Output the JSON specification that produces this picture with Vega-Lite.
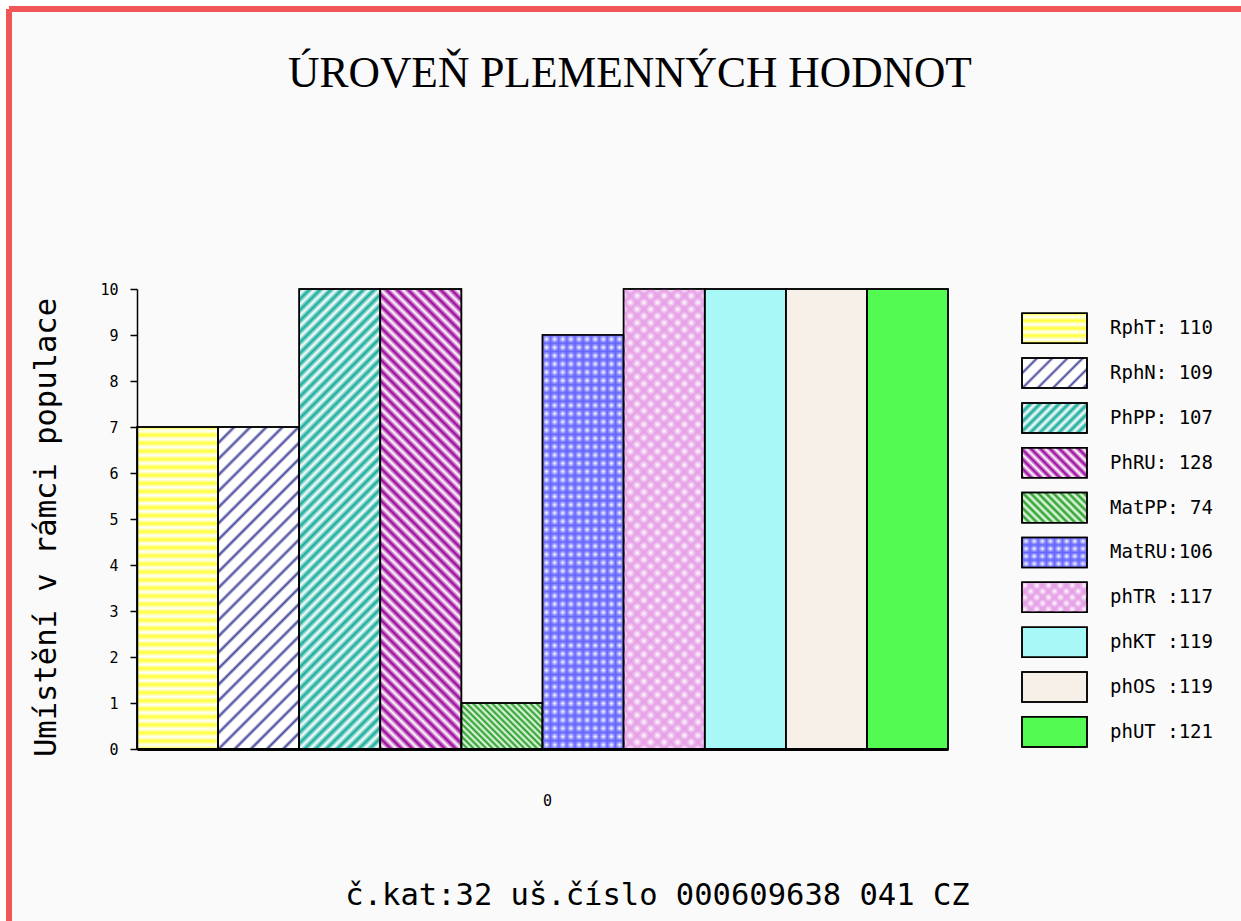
{
"$schema": "https://vega.github.io/schema/vega-lite/v6.json",
"width": 1232, "height": 912,
"autosize": {"type": "none"},
"padding": {"left": 9, "top": 9, "right": 0, "bottom": 0},
"background": "#ffffff",
"config": {"view": {"fill": "#fafafa", "stroke": "#f25757", "strokeWidth": 6, "strokeDash": [1232, 2144, 912, 0]}},
"title": {"text": "ÚROVEŇ PLEMENNÝCH HODNOT", "font": "Liberation Serif", "fontSize": 43.5, "fontWeight": "normal", "color": "#000", "anchor": "middle", "frame": "group", "baseline": "alphabetic", "offset": 0, "dx": 5, "dy": 121},
"data": {"values": [
 {"grp": "0", "name": "RphT", "value": 7, "label": "RphT: 110"},
 {"grp": "0", "name": "RphN", "value": 7, "label": "RphN: 109"},
 {"grp": "0", "name": "PhPP", "value": 10, "label": "PhPP: 107"},
 {"grp": "0", "name": "PhRU", "value": 10, "label": "PhRU: 128"},
 {"grp": "0", "name": "MatPP", "value": 1, "label": "MatPP: 74"},
 {"grp": "0", "name": "MatRU", "value": 9, "label": "MatRU:106"},
 {"grp": "0", "name": "phTR", "value": 10, "label": "phTR :117"},
 {"grp": "0", "name": "phKT", "value": 10, "label": "phKT :119"},
 {"grp": "0", "name": "phOS", "value": 10, "label": "phOS :119"},
 {"grp": "0", "name": "phUT", "value": 10, "label": "phUT :121"}
]},
"resolve": {"scale": {"x": "independent", "y": "independent"}, "axis": {"x": "independent", "y": "independent"}},
"layer": [
 {
  "encoding": {
   "x": {"field": "grp", "type": "nominal", "scale": {"type": "band", "range": [128, 939], "paddingInner": 0, "paddingOuter": 0},
     "axis": {"orient": "bottom", "offset": -172, "ticks": false, "labelAngle": 0, "labelFont": "DejaVu Sans Mono", "labelFontSize": 15, "labelColor": "#000", "labelPadding": 44, "labelOffset": 5, "domainColor": "#000", "domainWidth": 3, "zindex": 1,
       "title": "č.kat:32 uš.číslo 000609638 041 CZ", "titleFont": "DejaVu Sans Mono", "titleFontSize": 30.5, "titleFontWeight": "normal", "titleColor": "#000", "titlePadding": 72, "titleX": 648, "titleAlign": "center"}},
   "xOffset": {"field": "name", "type": "nominal", "sort": ["RphT","RphN","PhPP","PhRU","MatPP","MatRU","phTR","phKT","phOS","phUT"], "scale": {"paddingInner": 0, "paddingOuter": 0}},
   "y": {"field": "value", "type": "quantitative", "scale": {"domain": [0, 10], "range": [740, 280], "nice": false},
     "axis": {"orient": "left", "offset": -128, "values": [0,1,2,3,4,5,6,7,8,9,10], "grid": false, "tickSize": 7, "tickColor": "#000", "tickWidth": 1.5, "domainColor": "#000", "domainWidth": 1.5, "zindex": 1, "labelFont": "DejaVu Sans Mono", "labelFontSize": 15, "labelColor": "#000", "labelPadding": 12,
       "title": "Umístění v rámci populace", "titleFont": "DejaVu Sans Mono", "titleFontSize": 30.5, "titleFontWeight": "normal", "titleColor": "#000", "titlePadding": 38, "titleY": 518}}
  },
  "layer": [
   {"mark": {"type": "bar", "stroke": "#000", "strokeWidth": 1.5},
    "encoding": {"fill": {"condition": [
     {"test": "datum.name==='RphT'", "value": {"gradient": "linear", "x1": 0, "y1": 0, "x2": 0, "y2": 1, "stops": [
      {"offset":0,"color":"#ff3"},{"offset":0.0125,"color":"#fff"},{"offset":0.025,"color":"#ff3"},{"offset":0.0375,"color":"#fff"},{"offset":0.05,"color":"#ff3"},{"offset":0.0625,"color":"#fff"},{"offset":0.075,"color":"#ff3"},{"offset":0.0875,"color":"#fff"},{"offset":0.1,"color":"#ff3"},{"offset":0.1125,"color":"#fff"},
      {"offset":0.125,"color":"#ff3"},{"offset":0.1375,"color":"#fff"},{"offset":0.15,"color":"#ff3"},{"offset":0.1625,"color":"#fff"},{"offset":0.175,"color":"#ff3"},{"offset":0.1875,"color":"#fff"},{"offset":0.2,"color":"#ff3"},{"offset":0.2125,"color":"#fff"},{"offset":0.225,"color":"#ff3"},{"offset":0.2375,"color":"#fff"},
      {"offset":0.25,"color":"#ff3"},{"offset":0.2625,"color":"#fff"},{"offset":0.275,"color":"#ff3"},{"offset":0.2875,"color":"#fff"},{"offset":0.3,"color":"#ff3"},{"offset":0.3125,"color":"#fff"},{"offset":0.325,"color":"#ff3"},{"offset":0.3375,"color":"#fff"},{"offset":0.35,"color":"#ff3"},{"offset":0.3625,"color":"#fff"},
      {"offset":0.375,"color":"#ff3"},{"offset":0.3875,"color":"#fff"},{"offset":0.4,"color":"#ff3"},{"offset":0.4125,"color":"#fff"},{"offset":0.425,"color":"#ff3"},{"offset":0.4375,"color":"#fff"},{"offset":0.45,"color":"#ff3"},{"offset":0.4625,"color":"#fff"},{"offset":0.475,"color":"#ff3"},{"offset":0.4875,"color":"#fff"},
      {"offset":0.5,"color":"#ff3"},{"offset":0.5125,"color":"#fff"},{"offset":0.525,"color":"#ff3"},{"offset":0.5375,"color":"#fff"},{"offset":0.55,"color":"#ff3"},{"offset":0.5625,"color":"#fff"},{"offset":0.575,"color":"#ff3"},{"offset":0.5875,"color":"#fff"},{"offset":0.6,"color":"#ff3"},{"offset":0.6125,"color":"#fff"},
      {"offset":0.625,"color":"#ff3"},{"offset":0.6375,"color":"#fff"},{"offset":0.65,"color":"#ff3"},{"offset":0.6625,"color":"#fff"},{"offset":0.675,"color":"#ff3"},{"offset":0.6875,"color":"#fff"},{"offset":0.7,"color":"#ff3"},{"offset":0.7125,"color":"#fff"},{"offset":0.725,"color":"#ff3"},{"offset":0.7375,"color":"#fff"},
      {"offset":0.75,"color":"#ff3"},{"offset":0.7625,"color":"#fff"},{"offset":0.775,"color":"#ff3"},{"offset":0.7875,"color":"#fff"},{"offset":0.8,"color":"#ff3"},{"offset":0.8125,"color":"#fff"},{"offset":0.825,"color":"#ff3"},{"offset":0.8375,"color":"#fff"},{"offset":0.85,"color":"#ff3"},{"offset":0.8625,"color":"#fff"},
      {"offset":0.875,"color":"#ff3"},{"offset":0.8875,"color":"#fff"},{"offset":0.9,"color":"#ff3"},{"offset":0.9125,"color":"#fff"},{"offset":0.925,"color":"#ff3"},{"offset":0.9375,"color":"#fff"},{"offset":0.95,"color":"#ff3"},{"offset":0.9625,"color":"#fff"},{"offset":0.975,"color":"#ff3"},{"offset":0.9875,"color":"#fff"},{"offset":1,"color":"#ff3"}]}},
     {"test": "datum.name==='RphN'", "value": {"gradient": "linear", "x1": 0, "y1": 0, "x2": 0.2965, "y2": 1.1772, "stops": [
      {"offset":0,"color":"#449"},{"offset":0.008,"color":"#fff"},{"offset":0.032,"color":"#fff"},{"offset":0.04,"color":"#449"},{"offset":0.048,"color":"#fff"},{"offset":0.072,"color":"#fff"},{"offset":0.08,"color":"#449"},{"offset":0.088,"color":"#fff"},{"offset":0.112,"color":"#fff"},
      {"offset":0.12,"color":"#449"},{"offset":0.128,"color":"#fff"},{"offset":0.152,"color":"#fff"},{"offset":0.16,"color":"#449"},{"offset":0.168,"color":"#fff"},{"offset":0.192,"color":"#fff"},{"offset":0.2,"color":"#449"},{"offset":0.208,"color":"#fff"},{"offset":0.232,"color":"#fff"},
      {"offset":0.24,"color":"#449"},{"offset":0.248,"color":"#fff"},{"offset":0.272,"color":"#fff"},{"offset":0.28,"color":"#449"},{"offset":0.288,"color":"#fff"},{"offset":0.312,"color":"#fff"},{"offset":0.32,"color":"#449"},{"offset":0.328,"color":"#fff"},{"offset":0.352,"color":"#fff"},
      {"offset":0.36,"color":"#449"},{"offset":0.368,"color":"#fff"},{"offset":0.392,"color":"#fff"},{"offset":0.4,"color":"#449"},{"offset":0.408,"color":"#fff"},{"offset":0.432,"color":"#fff"},{"offset":0.44,"color":"#449"},{"offset":0.448,"color":"#fff"},{"offset":0.472,"color":"#fff"},
      {"offset":0.48,"color":"#449"},{"offset":0.488,"color":"#fff"},{"offset":0.512,"color":"#fff"},{"offset":0.52,"color":"#449"},{"offset":0.528,"color":"#fff"},{"offset":0.552,"color":"#fff"},{"offset":0.56,"color":"#449"},{"offset":0.568,"color":"#fff"},{"offset":0.592,"color":"#fff"},
      {"offset":0.6,"color":"#449"},{"offset":0.608,"color":"#fff"},{"offset":0.632,"color":"#fff"},{"offset":0.64,"color":"#449"},{"offset":0.648,"color":"#fff"},{"offset":0.672,"color":"#fff"},{"offset":0.68,"color":"#449"},{"offset":0.688,"color":"#fff"},{"offset":0.712,"color":"#fff"},
      {"offset":0.72,"color":"#449"},{"offset":0.728,"color":"#fff"},{"offset":0.752,"color":"#fff"},{"offset":0.76,"color":"#449"},{"offset":0.768,"color":"#fff"},{"offset":0.792,"color":"#fff"},{"offset":0.8,"color":"#449"},{"offset":0.808,"color":"#fff"},{"offset":0.832,"color":"#fff"},
      {"offset":0.84,"color":"#449"},{"offset":0.848,"color":"#fff"},{"offset":0.872,"color":"#fff"},{"offset":0.88,"color":"#449"},{"offset":0.888,"color":"#fff"},{"offset":0.912,"color":"#fff"},{"offset":0.92,"color":"#449"},{"offset":0.928,"color":"#fff"},{"offset":0.952,"color":"#fff"},
      {"offset":0.96,"color":"#449"},{"offset":0.968,"color":"#fff"},{"offset":0.992,"color":"#fff"},{"offset":1,"color":"#449"}]}},
     {"test": "datum.name==='PhPP'", "value": {"gradient": "linear", "x1": 0, "y1": 0, "x2": 0.2011, "y2": 1.1409, "stops": [
      {"offset":0,"color":"#1a9"},{"offset":0.01,"color":"#fff"},{"offset":0.02,"color":"#1a9"},{"offset":0.03,"color":"#fff"},{"offset":0.04,"color":"#1a9"},{"offset":0.05,"color":"#fff"},{"offset":0.06,"color":"#1a9"},{"offset":0.07,"color":"#fff"},{"offset":0.08,"color":"#1a9"},{"offset":0.09,"color":"#fff"},
      {"offset":0.1,"color":"#1a9"},{"offset":0.11,"color":"#fff"},{"offset":0.12,"color":"#1a9"},{"offset":0.13,"color":"#fff"},{"offset":0.14,"color":"#1a9"},{"offset":0.15,"color":"#fff"},{"offset":0.16,"color":"#1a9"},{"offset":0.17,"color":"#fff"},{"offset":0.18,"color":"#1a9"},{"offset":0.19,"color":"#fff"},
      {"offset":0.2,"color":"#1a9"},{"offset":0.21,"color":"#fff"},{"offset":0.22,"color":"#1a9"},{"offset":0.23,"color":"#fff"},{"offset":0.24,"color":"#1a9"},{"offset":0.25,"color":"#fff"},{"offset":0.26,"color":"#1a9"},{"offset":0.27,"color":"#fff"},{"offset":0.28,"color":"#1a9"},{"offset":0.29,"color":"#fff"},
      {"offset":0.3,"color":"#1a9"},{"offset":0.31,"color":"#fff"},{"offset":0.32,"color":"#1a9"},{"offset":0.33,"color":"#fff"},{"offset":0.34,"color":"#1a9"},{"offset":0.35,"color":"#fff"},{"offset":0.36,"color":"#1a9"},{"offset":0.37,"color":"#fff"},{"offset":0.38,"color":"#1a9"},{"offset":0.39,"color":"#fff"},
      {"offset":0.4,"color":"#1a9"},{"offset":0.41,"color":"#fff"},{"offset":0.42,"color":"#1a9"},{"offset":0.43,"color":"#fff"},{"offset":0.44,"color":"#1a9"},{"offset":0.45,"color":"#fff"},{"offset":0.46,"color":"#1a9"},{"offset":0.47,"color":"#fff"},{"offset":0.48,"color":"#1a9"},{"offset":0.49,"color":"#fff"},
      {"offset":0.5,"color":"#1a9"},{"offset":0.51,"color":"#fff"},{"offset":0.52,"color":"#1a9"},{"offset":0.53,"color":"#fff"},{"offset":0.54,"color":"#1a9"},{"offset":0.55,"color":"#fff"},{"offset":0.56,"color":"#1a9"},{"offset":0.57,"color":"#fff"},{"offset":0.58,"color":"#1a9"},{"offset":0.59,"color":"#fff"},
      {"offset":0.6,"color":"#1a9"},{"offset":0.61,"color":"#fff"},{"offset":0.62,"color":"#1a9"},{"offset":0.63,"color":"#fff"},{"offset":0.64,"color":"#1a9"},{"offset":0.65,"color":"#fff"},{"offset":0.66,"color":"#1a9"},{"offset":0.67,"color":"#fff"},{"offset":0.68,"color":"#1a9"},{"offset":0.69,"color":"#fff"},
      {"offset":0.7,"color":"#1a9"},{"offset":0.71,"color":"#fff"},{"offset":0.72,"color":"#1a9"},{"offset":0.73,"color":"#fff"},{"offset":0.74,"color":"#1a9"},{"offset":0.75,"color":"#fff"},{"offset":0.76,"color":"#1a9"},{"offset":0.77,"color":"#fff"},{"offset":0.78,"color":"#1a9"},{"offset":0.79,"color":"#fff"},
      {"offset":0.8,"color":"#1a9"},{"offset":0.81,"color":"#fff"},{"offset":0.82,"color":"#1a9"},{"offset":0.83,"color":"#fff"},{"offset":0.84,"color":"#1a9"},{"offset":0.85,"color":"#fff"},{"offset":0.86,"color":"#1a9"},{"offset":0.87,"color":"#fff"},{"offset":0.88,"color":"#1a9"},{"offset":0.89,"color":"#fff"},
      {"offset":0.9,"color":"#1a9"},{"offset":0.91,"color":"#fff"},{"offset":0.92,"color":"#1a9"},{"offset":0.93,"color":"#fff"},{"offset":0.94,"color":"#1a9"},{"offset":0.95,"color":"#fff"},{"offset":0.96,"color":"#1a9"},{"offset":0.97,"color":"#fff"},{"offset":0.98,"color":"#1a9"},{"offset":0.99,"color":"#fff"},{"offset":1,"color":"#1a9"}]}},
     {"test": "datum.name==='PhRU'", "value": {"gradient": "linear", "x1": 0, "y1": 1, "x2": 0.2011, "y2": -0.1409, "stops": [
      {"offset":0,"color":"#909"},{"offset":0.01,"color":"#fff"},{"offset":0.02,"color":"#909"},{"offset":0.03,"color":"#fff"},{"offset":0.04,"color":"#909"},{"offset":0.05,"color":"#fff"},{"offset":0.06,"color":"#909"},{"offset":0.07,"color":"#fff"},{"offset":0.08,"color":"#909"},{"offset":0.09,"color":"#fff"},
      {"offset":0.1,"color":"#909"},{"offset":0.11,"color":"#fff"},{"offset":0.12,"color":"#909"},{"offset":0.13,"color":"#fff"},{"offset":0.14,"color":"#909"},{"offset":0.15,"color":"#fff"},{"offset":0.16,"color":"#909"},{"offset":0.17,"color":"#fff"},{"offset":0.18,"color":"#909"},{"offset":0.19,"color":"#fff"},
      {"offset":0.2,"color":"#909"},{"offset":0.21,"color":"#fff"},{"offset":0.22,"color":"#909"},{"offset":0.23,"color":"#fff"},{"offset":0.24,"color":"#909"},{"offset":0.25,"color":"#fff"},{"offset":0.26,"color":"#909"},{"offset":0.27,"color":"#fff"},{"offset":0.28,"color":"#909"},{"offset":0.29,"color":"#fff"},
      {"offset":0.3,"color":"#909"},{"offset":0.31,"color":"#fff"},{"offset":0.32,"color":"#909"},{"offset":0.33,"color":"#fff"},{"offset":0.34,"color":"#909"},{"offset":0.35,"color":"#fff"},{"offset":0.36,"color":"#909"},{"offset":0.37,"color":"#fff"},{"offset":0.38,"color":"#909"},{"offset":0.39,"color":"#fff"},
      {"offset":0.4,"color":"#909"},{"offset":0.41,"color":"#fff"},{"offset":0.42,"color":"#909"},{"offset":0.43,"color":"#fff"},{"offset":0.44,"color":"#909"},{"offset":0.45,"color":"#fff"},{"offset":0.46,"color":"#909"},{"offset":0.47,"color":"#fff"},{"offset":0.48,"color":"#909"},{"offset":0.49,"color":"#fff"},
      {"offset":0.5,"color":"#909"},{"offset":0.51,"color":"#fff"},{"offset":0.52,"color":"#909"},{"offset":0.53,"color":"#fff"},{"offset":0.54,"color":"#909"},{"offset":0.55,"color":"#fff"},{"offset":0.56,"color":"#909"},{"offset":0.57,"color":"#fff"},{"offset":0.58,"color":"#909"},{"offset":0.59,"color":"#fff"},
      {"offset":0.6,"color":"#909"},{"offset":0.61,"color":"#fff"},{"offset":0.62,"color":"#909"},{"offset":0.63,"color":"#fff"},{"offset":0.64,"color":"#909"},{"offset":0.65,"color":"#fff"},{"offset":0.66,"color":"#909"},{"offset":0.67,"color":"#fff"},{"offset":0.68,"color":"#909"},{"offset":0.69,"color":"#fff"},
      {"offset":0.7,"color":"#909"},{"offset":0.71,"color":"#fff"},{"offset":0.72,"color":"#909"},{"offset":0.73,"color":"#fff"},{"offset":0.74,"color":"#909"},{"offset":0.75,"color":"#fff"},{"offset":0.76,"color":"#909"},{"offset":0.77,"color":"#fff"},{"offset":0.78,"color":"#909"},{"offset":0.79,"color":"#fff"},
      {"offset":0.8,"color":"#909"},{"offset":0.81,"color":"#fff"},{"offset":0.82,"color":"#909"},{"offset":0.83,"color":"#fff"},{"offset":0.84,"color":"#909"},{"offset":0.85,"color":"#fff"},{"offset":0.86,"color":"#909"},{"offset":0.87,"color":"#fff"},{"offset":0.88,"color":"#909"},{"offset":0.89,"color":"#fff"},
      {"offset":0.9,"color":"#909"},{"offset":0.91,"color":"#fff"},{"offset":0.92,"color":"#909"},{"offset":0.93,"color":"#fff"},{"offset":0.94,"color":"#909"},{"offset":0.95,"color":"#fff"},{"offset":0.96,"color":"#909"},{"offset":0.97,"color":"#fff"},{"offset":0.98,"color":"#909"},{"offset":0.99,"color":"#fff"},{"offset":1,"color":"#909"}]}},
     {"test": "datum.name==='MatPP'", "value": {"gradient": "linear", "x1": 0, "y1": 1, "x2": 1.1858, "y2": 0.3274, "stops": [
      {"offset":0,"color":"#292"},{"offset":0.025,"color":"#efe"},{"offset":0.05,"color":"#292"},{"offset":0.075,"color":"#efe"},{"offset":0.1,"color":"#292"},{"offset":0.125,"color":"#efe"},{"offset":0.15,"color":"#292"},{"offset":0.175,"color":"#efe"},{"offset":0.2,"color":"#292"},{"offset":0.225,"color":"#efe"},
      {"offset":0.25,"color":"#292"},{"offset":0.275,"color":"#efe"},{"offset":0.3,"color":"#292"},{"offset":0.325,"color":"#efe"},{"offset":0.35,"color":"#292"},{"offset":0.375,"color":"#efe"},{"offset":0.4,"color":"#292"},{"offset":0.425,"color":"#efe"},{"offset":0.45,"color":"#292"},{"offset":0.475,"color":"#efe"},
      {"offset":0.5,"color":"#292"},{"offset":0.525,"color":"#efe"},{"offset":0.55,"color":"#292"},{"offset":0.575,"color":"#efe"},{"offset":0.6,"color":"#292"},{"offset":0.625,"color":"#efe"},{"offset":0.65,"color":"#292"},{"offset":0.675,"color":"#efe"},{"offset":0.7,"color":"#292"},{"offset":0.725,"color":"#efe"},
      {"offset":0.75,"color":"#292"},{"offset":0.775,"color":"#efe"},{"offset":0.8,"color":"#292"},{"offset":0.825,"color":"#efe"},{"offset":0.85,"color":"#292"},{"offset":0.875,"color":"#efe"},{"offset":0.9,"color":"#292"},{"offset":0.925,"color":"#efe"},{"offset":0.95,"color":"#292"},{"offset":0.975,"color":"#efe"},{"offset":1,"color":"#292"}]}},
     {"test": "datum.name==='MatRU'", "value": {"gradient": "linear", "x1": 0, "y1": 0, "x2": 1, "y2": 0, "stops": [
      {"offset":0,"color":"#66f"},{"offset":0.05,"color":"#fff"},{"offset":0.1,"color":"#66f"},{"offset":0.15,"color":"#fff"},{"offset":0.2,"color":"#66f"},{"offset":0.25,"color":"#fff"},{"offset":0.3,"color":"#66f"},{"offset":0.35,"color":"#fff"},{"offset":0.4,"color":"#66f"},{"offset":0.45,"color":"#fff"},
      {"offset":0.5,"color":"#66f"},{"offset":0.55,"color":"#fff"},{"offset":0.6,"color":"#66f"},{"offset":0.65,"color":"#fff"},{"offset":0.7,"color":"#66f"},{"offset":0.75,"color":"#fff"},{"offset":0.8,"color":"#66f"},{"offset":0.85,"color":"#fff"},{"offset":0.9,"color":"#66f"},{"offset":0.95,"color":"#fff"},{"offset":1,"color":"#66f"}]}},
     {"test": "datum.name==='phTR'", "value": {"gradient": "linear", "x1": 0, "y1": 0, "x2": 0.2011, "y2": 1.1409, "stops": [
      {"offset":0,"color":"#e6a0e6"},{"offset":0.0125,"color":"#fff"},{"offset":0.025,"color":"#e6a0e6"},{"offset":0.0375,"color":"#fff"},{"offset":0.05,"color":"#e6a0e6"},{"offset":0.0625,"color":"#fff"},{"offset":0.075,"color":"#e6a0e6"},{"offset":0.0875,"color":"#fff"},{"offset":0.1,"color":"#e6a0e6"},{"offset":0.1125,"color":"#fff"},
      {"offset":0.125,"color":"#e6a0e6"},{"offset":0.1375,"color":"#fff"},{"offset":0.15,"color":"#e6a0e6"},{"offset":0.1625,"color":"#fff"},{"offset":0.175,"color":"#e6a0e6"},{"offset":0.1875,"color":"#fff"},{"offset":0.2,"color":"#e6a0e6"},{"offset":0.2125,"color":"#fff"},{"offset":0.225,"color":"#e6a0e6"},{"offset":0.2375,"color":"#fff"},
      {"offset":0.25,"color":"#e6a0e6"},{"offset":0.2625,"color":"#fff"},{"offset":0.275,"color":"#e6a0e6"},{"offset":0.2875,"color":"#fff"},{"offset":0.3,"color":"#e6a0e6"},{"offset":0.3125,"color":"#fff"},{"offset":0.325,"color":"#e6a0e6"},{"offset":0.3375,"color":"#fff"},{"offset":0.35,"color":"#e6a0e6"},{"offset":0.3625,"color":"#fff"},
      {"offset":0.375,"color":"#e6a0e6"},{"offset":0.3875,"color":"#fff"},{"offset":0.4,"color":"#e6a0e6"},{"offset":0.4125,"color":"#fff"},{"offset":0.425,"color":"#e6a0e6"},{"offset":0.4375,"color":"#fff"},{"offset":0.45,"color":"#e6a0e6"},{"offset":0.4625,"color":"#fff"},{"offset":0.475,"color":"#e6a0e6"},{"offset":0.4875,"color":"#fff"},
      {"offset":0.5,"color":"#e6a0e6"},{"offset":0.5125,"color":"#fff"},{"offset":0.525,"color":"#e6a0e6"},{"offset":0.5375,"color":"#fff"},{"offset":0.55,"color":"#e6a0e6"},{"offset":0.5625,"color":"#fff"},{"offset":0.575,"color":"#e6a0e6"},{"offset":0.5875,"color":"#fff"},{"offset":0.6,"color":"#e6a0e6"},{"offset":0.6125,"color":"#fff"},
      {"offset":0.625,"color":"#e6a0e6"},{"offset":0.6375,"color":"#fff"},{"offset":0.65,"color":"#e6a0e6"},{"offset":0.6625,"color":"#fff"},{"offset":0.675,"color":"#e6a0e6"},{"offset":0.6875,"color":"#fff"},{"offset":0.7,"color":"#e6a0e6"},{"offset":0.7125,"color":"#fff"},{"offset":0.725,"color":"#e6a0e6"},{"offset":0.7375,"color":"#fff"},
      {"offset":0.75,"color":"#e6a0e6"},{"offset":0.7625,"color":"#fff"},{"offset":0.775,"color":"#e6a0e6"},{"offset":0.7875,"color":"#fff"},{"offset":0.8,"color":"#e6a0e6"},{"offset":0.8125,"color":"#fff"},{"offset":0.825,"color":"#e6a0e6"},{"offset":0.8375,"color":"#fff"},{"offset":0.85,"color":"#e6a0e6"},{"offset":0.8625,"color":"#fff"},
      {"offset":0.875,"color":"#e6a0e6"},{"offset":0.8875,"color":"#fff"},{"offset":0.9,"color":"#e6a0e6"},{"offset":0.9125,"color":"#fff"},{"offset":0.925,"color":"#e6a0e6"},{"offset":0.9375,"color":"#fff"},{"offset":0.95,"color":"#e6a0e6"},{"offset":0.9625,"color":"#fff"},{"offset":0.975,"color":"#e6a0e6"},{"offset":0.9875,"color":"#fff"},{"offset":1,"color":"#e6a0e6"}]}},
     {"test": "datum.name==='phKT'", "value": "#a8f8f8"},
     {"test": "datum.name==='phOS'", "value": "#f7f0e8"}
    ], "value": "#52fa52"}}},
   {"mark": {"type": "bar", "stroke": "#000", "strokeWidth": 1.5},
    "encoding": {"fill": {"condition": [
     {"test": "datum.name==='MatRU'", "value": {"gradient": "linear", "x1": 0, "y1": 0, "x2": 0, "y2": 1, "stops": [
      {"offset":0,"color":"#66f"},{"offset":0.01,"color":"rgba(102,102,255,0)"},{"offset":0.02,"color":"#66f"},{"offset":0.03,"color":"rgba(102,102,255,0)"},{"offset":0.04,"color":"#66f"},{"offset":0.05,"color":"rgba(102,102,255,0)"},{"offset":0.06,"color":"#66f"},{"offset":0.07,"color":"rgba(102,102,255,0)"},{"offset":0.08,"color":"#66f"},{"offset":0.09,"color":"rgba(102,102,255,0)"},
      {"offset":0.1,"color":"#66f"},{"offset":0.11,"color":"rgba(102,102,255,0)"},{"offset":0.12,"color":"#66f"},{"offset":0.13,"color":"rgba(102,102,255,0)"},{"offset":0.14,"color":"#66f"},{"offset":0.15,"color":"rgba(102,102,255,0)"},{"offset":0.16,"color":"#66f"},{"offset":0.17,"color":"rgba(102,102,255,0)"},{"offset":0.18,"color":"#66f"},{"offset":0.19,"color":"rgba(102,102,255,0)"},
      {"offset":0.2,"color":"#66f"},{"offset":0.21,"color":"rgba(102,102,255,0)"},{"offset":0.22,"color":"#66f"},{"offset":0.23,"color":"rgba(102,102,255,0)"},{"offset":0.24,"color":"#66f"},{"offset":0.25,"color":"rgba(102,102,255,0)"},{"offset":0.26,"color":"#66f"},{"offset":0.27,"color":"rgba(102,102,255,0)"},{"offset":0.28,"color":"#66f"},{"offset":0.29,"color":"rgba(102,102,255,0)"},
      {"offset":0.3,"color":"#66f"},{"offset":0.31,"color":"rgba(102,102,255,0)"},{"offset":0.32,"color":"#66f"},{"offset":0.33,"color":"rgba(102,102,255,0)"},{"offset":0.34,"color":"#66f"},{"offset":0.35,"color":"rgba(102,102,255,0)"},{"offset":0.36,"color":"#66f"},{"offset":0.37,"color":"rgba(102,102,255,0)"},{"offset":0.38,"color":"#66f"},{"offset":0.39,"color":"rgba(102,102,255,0)"},
      {"offset":0.4,"color":"#66f"},{"offset":0.41,"color":"rgba(102,102,255,0)"},{"offset":0.42,"color":"#66f"},{"offset":0.43,"color":"rgba(102,102,255,0)"},{"offset":0.44,"color":"#66f"},{"offset":0.45,"color":"rgba(102,102,255,0)"},{"offset":0.46,"color":"#66f"},{"offset":0.47,"color":"rgba(102,102,255,0)"},{"offset":0.48,"color":"#66f"},{"offset":0.49,"color":"rgba(102,102,255,0)"},
      {"offset":0.5,"color":"#66f"},{"offset":0.51,"color":"rgba(102,102,255,0)"},{"offset":0.52,"color":"#66f"},{"offset":0.53,"color":"rgba(102,102,255,0)"},{"offset":0.54,"color":"#66f"},{"offset":0.55,"color":"rgba(102,102,255,0)"},{"offset":0.56,"color":"#66f"},{"offset":0.57,"color":"rgba(102,102,255,0)"},{"offset":0.58,"color":"#66f"},{"offset":0.59,"color":"rgba(102,102,255,0)"},
      {"offset":0.6,"color":"#66f"},{"offset":0.61,"color":"rgba(102,102,255,0)"},{"offset":0.62,"color":"#66f"},{"offset":0.63,"color":"rgba(102,102,255,0)"},{"offset":0.64,"color":"#66f"},{"offset":0.65,"color":"rgba(102,102,255,0)"},{"offset":0.66,"color":"#66f"},{"offset":0.67,"color":"rgba(102,102,255,0)"},{"offset":0.68,"color":"#66f"},{"offset":0.69,"color":"rgba(102,102,255,0)"},
      {"offset":0.7,"color":"#66f"},{"offset":0.71,"color":"rgba(102,102,255,0)"},{"offset":0.72,"color":"#66f"},{"offset":0.73,"color":"rgba(102,102,255,0)"},{"offset":0.74,"color":"#66f"},{"offset":0.75,"color":"rgba(102,102,255,0)"},{"offset":0.76,"color":"#66f"},{"offset":0.77,"color":"rgba(102,102,255,0)"},{"offset":0.78,"color":"#66f"},{"offset":0.79,"color":"rgba(102,102,255,0)"},
      {"offset":0.8,"color":"#66f"},{"offset":0.81,"color":"rgba(102,102,255,0)"},{"offset":0.82,"color":"#66f"},{"offset":0.83,"color":"rgba(102,102,255,0)"},{"offset":0.84,"color":"#66f"},{"offset":0.85,"color":"rgba(102,102,255,0)"},{"offset":0.86,"color":"#66f"},{"offset":0.87,"color":"rgba(102,102,255,0)"},{"offset":0.88,"color":"#66f"},{"offset":0.89,"color":"rgba(102,102,255,0)"},
      {"offset":0.9,"color":"#66f"},{"offset":0.91,"color":"rgba(102,102,255,0)"},{"offset":0.92,"color":"#66f"},{"offset":0.93,"color":"rgba(102,102,255,0)"},{"offset":0.94,"color":"#66f"},{"offset":0.95,"color":"rgba(102,102,255,0)"},{"offset":0.96,"color":"#66f"},{"offset":0.97,"color":"rgba(102,102,255,0)"},{"offset":0.98,"color":"#66f"},{"offset":0.99,"color":"rgba(102,102,255,0)"},{"offset":1,"color":"#66f"}]}},
     {"test": "datum.name==='phTR'", "value": {"gradient": "linear", "x1": 0, "y1": 1, "x2": 0.2011, "y2": -0.1409, "stops": [
      {"offset":0,"color":"#e6a0e6"},{"offset":0.0125,"color":"rgba(230,160,230,0)"},{"offset":0.025,"color":"#e6a0e6"},{"offset":0.0375,"color":"rgba(230,160,230,0)"},{"offset":0.05,"color":"#e6a0e6"},{"offset":0.0625,"color":"rgba(230,160,230,0)"},{"offset":0.075,"color":"#e6a0e6"},{"offset":0.0875,"color":"rgba(230,160,230,0)"},{"offset":0.1,"color":"#e6a0e6"},{"offset":0.1125,"color":"rgba(230,160,230,0)"},
      {"offset":0.125,"color":"#e6a0e6"},{"offset":0.1375,"color":"rgba(230,160,230,0)"},{"offset":0.15,"color":"#e6a0e6"},{"offset":0.1625,"color":"rgba(230,160,230,0)"},{"offset":0.175,"color":"#e6a0e6"},{"offset":0.1875,"color":"rgba(230,160,230,0)"},{"offset":0.2,"color":"#e6a0e6"},{"offset":0.2125,"color":"rgba(230,160,230,0)"},{"offset":0.225,"color":"#e6a0e6"},{"offset":0.2375,"color":"rgba(230,160,230,0)"},
      {"offset":0.25,"color":"#e6a0e6"},{"offset":0.2625,"color":"rgba(230,160,230,0)"},{"offset":0.275,"color":"#e6a0e6"},{"offset":0.2875,"color":"rgba(230,160,230,0)"},{"offset":0.3,"color":"#e6a0e6"},{"offset":0.3125,"color":"rgba(230,160,230,0)"},{"offset":0.325,"color":"#e6a0e6"},{"offset":0.3375,"color":"rgba(230,160,230,0)"},{"offset":0.35,"color":"#e6a0e6"},{"offset":0.3625,"color":"rgba(230,160,230,0)"},
      {"offset":0.375,"color":"#e6a0e6"},{"offset":0.3875,"color":"rgba(230,160,230,0)"},{"offset":0.4,"color":"#e6a0e6"},{"offset":0.4125,"color":"rgba(230,160,230,0)"},{"offset":0.425,"color":"#e6a0e6"},{"offset":0.4375,"color":"rgba(230,160,230,0)"},{"offset":0.45,"color":"#e6a0e6"},{"offset":0.4625,"color":"rgba(230,160,230,0)"},{"offset":0.475,"color":"#e6a0e6"},{"offset":0.4875,"color":"rgba(230,160,230,0)"},
      {"offset":0.5,"color":"#e6a0e6"},{"offset":0.5125,"color":"rgba(230,160,230,0)"},{"offset":0.525,"color":"#e6a0e6"},{"offset":0.5375,"color":"rgba(230,160,230,0)"},{"offset":0.55,"color":"#e6a0e6"},{"offset":0.5625,"color":"rgba(230,160,230,0)"},{"offset":0.575,"color":"#e6a0e6"},{"offset":0.5875,"color":"rgba(230,160,230,0)"},{"offset":0.6,"color":"#e6a0e6"},{"offset":0.6125,"color":"rgba(230,160,230,0)"},
      {"offset":0.625,"color":"#e6a0e6"},{"offset":0.6375,"color":"rgba(230,160,230,0)"},{"offset":0.65,"color":"#e6a0e6"},{"offset":0.6625,"color":"rgba(230,160,230,0)"},{"offset":0.675,"color":"#e6a0e6"},{"offset":0.6875,"color":"rgba(230,160,230,0)"},{"offset":0.7,"color":"#e6a0e6"},{"offset":0.7125,"color":"rgba(230,160,230,0)"},{"offset":0.725,"color":"#e6a0e6"},{"offset":0.7375,"color":"rgba(230,160,230,0)"},
      {"offset":0.75,"color":"#e6a0e6"},{"offset":0.7625,"color":"rgba(230,160,230,0)"},{"offset":0.775,"color":"#e6a0e6"},{"offset":0.7875,"color":"rgba(230,160,230,0)"},{"offset":0.8,"color":"#e6a0e6"},{"offset":0.8125,"color":"rgba(230,160,230,0)"},{"offset":0.825,"color":"#e6a0e6"},{"offset":0.8375,"color":"rgba(230,160,230,0)"},{"offset":0.85,"color":"#e6a0e6"},{"offset":0.8625,"color":"rgba(230,160,230,0)"},
      {"offset":0.875,"color":"#e6a0e6"},{"offset":0.8875,"color":"rgba(230,160,230,0)"},{"offset":0.9,"color":"#e6a0e6"},{"offset":0.9125,"color":"rgba(230,160,230,0)"},{"offset":0.925,"color":"#e6a0e6"},{"offset":0.9375,"color":"rgba(230,160,230,0)"},{"offset":0.95,"color":"#e6a0e6"},{"offset":0.9625,"color":"rgba(230,160,230,0)"},{"offset":0.975,"color":"#e6a0e6"},{"offset":0.9875,"color":"rgba(230,160,230,0)"},{"offset":1,"color":"#e6a0e6"}]}}
    ], "value": "rgba(0,0,0,0)"}}}
  ]
 },
 {
  "encoding": {
   "y": {"field": "name", "type": "nominal", "sort": ["RphT","RphN","PhPP","PhRU","MatPP","MatRU","phTR","phKT","phOS","phUT"], "scale": {"range": [296.8, 745.3], "paddingInner": 0.33, "paddingOuter": 0.165}, "axis": null},
   "x": {"datum": 0, "type": "quantitative", "scale": {"domain": [0, 1], "range": [1013, 1078], "nice": false, "zero": false}, "axis": null}
  },
  "layer": [
   {"mark": {"type": "rect", "stroke": "#000", "strokeWidth": 1.5},
    "encoding": {
     "x2": {"datum": 1},
     "fill": {"condition": [
      {"test": "datum.name==='RphT'", "value": {"gradient": "linear", "x1": 0, "y1": 0, "x2": 0, "y2": 1, "stops": [
       {"offset":0,"color":"#ff3"},{"offset":0.125,"color":"#fff"},{"offset":0.25,"color":"#ff3"},{"offset":0.375,"color":"#fff"},{"offset":0.5,"color":"#ff3"},{"offset":0.625,"color":"#fff"},{"offset":0.75,"color":"#ff3"},{"offset":0.875,"color":"#fff"},{"offset":1,"color":"#ff3"}]}},
      {"test": "datum.name==='RphN'", "value": {"gradient": "linear", "x1": 0, "y1": 0, "x2": 1.2049, "y2": 0.5561, "stops": [
       {"offset":0,"color":"#449"},{"offset":0.03,"color":"#fff"},{"offset":0.13,"color":"#fff"},{"offset":0.16,"color":"#449"},{"offset":0.19,"color":"#fff"},{"offset":0.29,"color":"#fff"},{"offset":0.32,"color":"#449"},{"offset":0.35,"color":"#fff"},{"offset":0.45,"color":"#fff"},{"offset":0.48,"color":"#449"},
       {"offset":0.51,"color":"#fff"},{"offset":0.61,"color":"#fff"},{"offset":0.64,"color":"#449"},{"offset":0.67,"color":"#fff"},{"offset":0.77,"color":"#fff"},{"offset":0.8,"color":"#449"},{"offset":0.83,"color":"#fff"},{"offset":0.93,"color":"#fff"},{"offset":0.96,"color":"#449"},{"offset":0.99,"color":"#fff"}]}},
      {"test": "datum.name==='PhPP'", "value": {"gradient": "linear", "x1": 0, "y1": 0, "x2": 1.2049, "y2": 0.5561, "stops": [
       {"offset":0,"color":"#1a9"},{"offset":0.05,"color":"#fff"},{"offset":0.1,"color":"#1a9"},{"offset":0.15,"color":"#fff"},{"offset":0.2,"color":"#1a9"},{"offset":0.25,"color":"#fff"},{"offset":0.3,"color":"#1a9"},{"offset":0.35,"color":"#fff"},{"offset":0.4,"color":"#1a9"},{"offset":0.45,"color":"#fff"},
       {"offset":0.5,"color":"#1a9"},{"offset":0.55,"color":"#fff"},{"offset":0.6,"color":"#1a9"},{"offset":0.65,"color":"#fff"},{"offset":0.7,"color":"#1a9"},{"offset":0.75,"color":"#fff"},{"offset":0.8,"color":"#1a9"},{"offset":0.85,"color":"#fff"},{"offset":0.9,"color":"#1a9"},{"offset":0.95,"color":"#fff"},{"offset":1,"color":"#1a9"}]}},
      {"test": "datum.name==='PhRU'", "value": {"gradient": "linear", "x1": 0, "y1": 1, "x2": 1.2049, "y2": 0.4439, "stops": [
       {"offset":0,"color":"#909"},{"offset":0.05,"color":"#fff"},{"offset":0.1,"color":"#909"},{"offset":0.15,"color":"#fff"},{"offset":0.2,"color":"#909"},{"offset":0.25,"color":"#fff"},{"offset":0.3,"color":"#909"},{"offset":0.35,"color":"#fff"},{"offset":0.4,"color":"#909"},{"offset":0.45,"color":"#fff"},
       {"offset":0.5,"color":"#909"},{"offset":0.55,"color":"#fff"},{"offset":0.6,"color":"#909"},{"offset":0.65,"color":"#fff"},{"offset":0.7,"color":"#909"},{"offset":0.75,"color":"#fff"},{"offset":0.8,"color":"#909"},{"offset":0.85,"color":"#fff"},{"offset":0.9,"color":"#909"},{"offset":0.95,"color":"#fff"},{"offset":1,"color":"#909"}]}},
      {"test": "datum.name==='MatPP'", "value": {"gradient": "linear", "x1": 0, "y1": 1, "x2": 1.2049, "y2": 0.4439, "stops": [
       {"offset":0,"color":"#292"},{"offset":0.04,"color":"#efe"},{"offset":0.08,"color":"#292"},{"offset":0.12,"color":"#efe"},{"offset":0.16,"color":"#292"},{"offset":0.2,"color":"#efe"},{"offset":0.24,"color":"#292"},{"offset":0.28,"color":"#efe"},{"offset":0.32,"color":"#292"},{"offset":0.36,"color":"#efe"},
       {"offset":0.4,"color":"#292"},{"offset":0.44,"color":"#efe"},{"offset":0.48,"color":"#292"},{"offset":0.52,"color":"#efe"},{"offset":0.56,"color":"#292"},{"offset":0.6,"color":"#efe"},{"offset":0.64,"color":"#292"},{"offset":0.68,"color":"#efe"},{"offset":0.72,"color":"#292"},{"offset":0.76,"color":"#efe"},
       {"offset":0.8,"color":"#292"},{"offset":0.84,"color":"#efe"},{"offset":0.88,"color":"#292"},{"offset":0.92,"color":"#efe"},{"offset":0.96,"color":"#292"},{"offset":1,"color":"#efe"}]}},
      {"test": "datum.name==='MatRU'", "value": {"gradient": "linear", "x1": 0, "y1": 0, "x2": 1, "y2": 0, "stops": [
       {"offset":0,"color":"#66f"},{"offset":0.0625,"color":"#fff"},{"offset":0.125,"color":"#66f"},{"offset":0.1875,"color":"#fff"},{"offset":0.25,"color":"#66f"},{"offset":0.3125,"color":"#fff"},{"offset":0.375,"color":"#66f"},{"offset":0.4375,"color":"#fff"},{"offset":0.5,"color":"#66f"},
       {"offset":0.5625,"color":"#fff"},{"offset":0.625,"color":"#66f"},{"offset":0.6875,"color":"#fff"},{"offset":0.75,"color":"#66f"},{"offset":0.8125,"color":"#fff"},{"offset":0.875,"color":"#66f"},{"offset":0.9375,"color":"#fff"},{"offset":1,"color":"#66f"}]}},
      {"test": "datum.name==='phTR'", "value": {"gradient": "linear", "x1": 0, "y1": 0, "x2": 1.2049, "y2": 0.5561, "stops": [
       {"offset":0,"color":"#e6a0e6"},{"offset":0.0625,"color":"#fff"},{"offset":0.125,"color":"#e6a0e6"},{"offset":0.1875,"color":"#fff"},{"offset":0.25,"color":"#e6a0e6"},{"offset":0.3125,"color":"#fff"},{"offset":0.375,"color":"#e6a0e6"},{"offset":0.4375,"color":"#fff"},{"offset":0.5,"color":"#e6a0e6"},
       {"offset":0.5625,"color":"#fff"},{"offset":0.625,"color":"#e6a0e6"},{"offset":0.6875,"color":"#fff"},{"offset":0.75,"color":"#e6a0e6"},{"offset":0.8125,"color":"#fff"},{"offset":0.875,"color":"#e6a0e6"},{"offset":0.9375,"color":"#fff"},{"offset":1,"color":"#e6a0e6"}]}},
      {"test": "datum.name==='phKT'", "value": "#a8f8f8"},
      {"test": "datum.name==='phOS'", "value": "#f7f0e8"}
     ], "value": "#52fa52"}
    }},
   {"mark": {"type": "rect", "stroke": "#000", "strokeWidth": 1.5},
    "encoding": {
     "x2": {"datum": 1},
     "fill": {"condition": [
      {"test": "datum.name==='MatRU'", "value": {"gradient": "linear", "x1": 0, "y1": 0, "x2": 0, "y2": 1, "stops": [
       {"offset":0,"color":"#66f"},{"offset":0.125,"color":"rgba(102,102,255,0)"},{"offset":0.25,"color":"#66f"},{"offset":0.375,"color":"rgba(102,102,255,0)"},{"offset":0.5,"color":"#66f"},{"offset":0.625,"color":"rgba(102,102,255,0)"},{"offset":0.75,"color":"#66f"},{"offset":0.875,"color":"rgba(102,102,255,0)"},{"offset":1,"color":"#66f"}]}},
      {"test": "datum.name==='phTR'", "value": {"gradient": "linear", "x1": 0, "y1": 1, "x2": 1.2049, "y2": 0.4439, "stops": [
       {"offset":0,"color":"#e6a0e6"},{"offset":0.0625,"color":"rgba(230,160,230,0)"},{"offset":0.125,"color":"#e6a0e6"},{"offset":0.1875,"color":"rgba(230,160,230,0)"},{"offset":0.25,"color":"#e6a0e6"},{"offset":0.3125,"color":"rgba(230,160,230,0)"},{"offset":0.375,"color":"#e6a0e6"},{"offset":0.4375,"color":"rgba(230,160,230,0)"},{"offset":0.5,"color":"#e6a0e6"},
       {"offset":0.5625,"color":"rgba(230,160,230,0)"},{"offset":0.625,"color":"#e6a0e6"},{"offset":0.6875,"color":"rgba(230,160,230,0)"},{"offset":0.75,"color":"#e6a0e6"},{"offset":0.8125,"color":"rgba(230,160,230,0)"},{"offset":0.875,"color":"#e6a0e6"},{"offset":0.9375,"color":"rgba(230,160,230,0)"},{"offset":1,"color":"#e6a0e6"}]}}
     ], "value": "rgba(0,0,0,0)"}
    }},
   {"mark": {"type": "text", "align": "left", "baseline": "middle", "dx": 23, "font": "DejaVu Sans Mono", "fontSize": 19, "fill": "#000"},
    "encoding": {
     "x": {"datum": 1, "type": "quantitative", "axis": null},
     "text": {"field": "label"}
    }}
  ]
 }
]
}
